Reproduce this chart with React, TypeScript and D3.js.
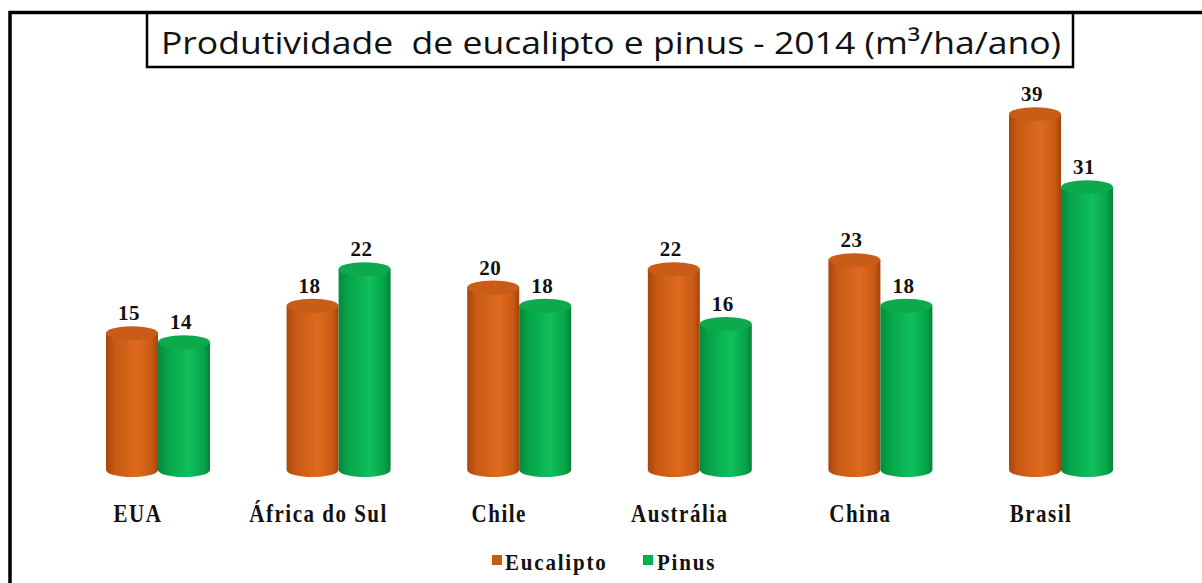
import * as d3 from "d3";

const categories = ["EUA", "África do Sul", "Chile", "Austrália", "China", "Brasil"];
const eucalipto = [15, 18, 20, 22, 23, 39];
const pinus = [14, 22, 18, 16, 18, 31];
const seriesNames = ["Eucalipto", "Pinus"];
const title = "Produtividade  de eucalipto e pinus - 2014 (m³/ha/ano)";

const W = 1202;
const H = 583;

const series = [
  { name: seriesNames[0], values: eucalipto, grad: "gradOrange", top: "#C95C16", swatch: "#C55A11" },
  { name: seriesNames[1], values: pinus, grad: "gradGreen", top: "#0DAA4C", swatch: "#00B050" },
];

export default function App() {
  const x = d3.scaleBand<string>().domain(categories).range([67.7, 1151.3]);
  const inner = d3.scaleBand<string>().domain(seriesNames).range([-52, 52]);
  const y = d3.scaleLinear().domain([0, 40]).range([470, 105]);
  const ry = 7;
  const bw = inner.bandwidth();

  const serif = "'Liberation Serif', 'Times New Roman', serif";

  return (
    <svg
      width={W}
      height={H}
      style={{ position: "absolute", left: 0, top: 0, background: "#fff" }}
    >
      <defs>
        <linearGradient id="gradOrange" x1="0" x2="1" y1="0" y2="0">
          <stop offset="0%" stopColor="#A9450C" />
          <stop offset="18%" stopColor="#C95A14" />
          <stop offset="60%" stopColor="#DE6A1E" />
          <stop offset="88%" stopColor="#C95A14" />
          <stop offset="100%" stopColor="#A5430B" />
        </linearGradient>
        <linearGradient id="gradGreen" x1="0" x2="1" y1="0" y2="0">
          <stop offset="0%" stopColor="#07893C" />
          <stop offset="18%" stopColor="#05A448" />
          <stop offset="60%" stopColor="#10BF5C" />
          <stop offset="88%" stopColor="#05A448" />
          <stop offset="100%" stopColor="#068238" />
        </linearGradient>
      </defs>

      {/* outer frame */}
      <rect x={10} y={12.5} width={1400} height={800} fill="none" stroke="#000" strokeWidth={3.5} />

      {/* title box */}
      <rect x={147} y={13} width={926} height={54} fill="#fff" stroke="#000" strokeWidth={2.5} />
      <text
        x={611}
        y={54}
        textAnchor="middle"
        fontFamily="'Open Sans', 'Noto Sans', sans-serif"
        fontSize={31}
        textLength={900}
        lengthAdjust="spacingAndGlyphs"
        fill="#111"
        style={{ whiteSpace: "pre" }}
      >
        {title}
      </text>

      {/* bars */}
      {categories.map((c, i) => (
        <g key={c}>
          {series.map((s) => {
            const v = s.values[i];
            const x0 = (x(c) as number) + x.bandwidth() / 2 + (inner(s.name) as number);
            const cx = x0 + bw / 2;
            const yt = y(v);
            const yb = y(0);
            return (
              <g key={s.name}>
                <path
                  d={`M${x0},${yt} L${x0},${yb} A${bw / 2},${ry} 0 0 0 ${x0 + bw},${yb} L${x0 + bw},${yt} Z`}
                  fill={`url(#${s.grad})`}
                />
                <ellipse cx={cx} cy={yt} rx={bw / 2} ry={ry} fill={s.top} />
                <text
                  x={cx - 3}
                  y={yt - ry - 6}
                  textAnchor="middle"
                  fontFamily={serif}
                  fontWeight="bold"
                  fontSize={21}
                  letterSpacing={0.5}
                  fill="#111"
                >
                  {v}
                </text>
              </g>
            );
          })}
          <text
            transform={`translate(${(x(c) as number) + x.bandwidth() / 2 - bw / 2 + 6},522) scale(1,1.2)`}
            textAnchor="middle"
            fontFamily={serif}
            fontWeight="bold"
            fontSize={21}
            letterSpacing={1.5}
            fill="#111"
          >
            {c}
          </text>
        </g>
      ))}

      {/* legend */}
      <g>
        <rect x={492} y={555} width={10} height={10} fill={series[0].swatch} />
        <text transform="translate(505,570) scale(1,1.1)" fontFamily={serif} fontWeight="bold" fontSize={21} letterSpacing={1.8} fill="#111">
          {series[0].name}
        </text>
        <rect x={643} y={555} width={10} height={10} fill={series[1].swatch} />
        <text transform="translate(657,570) scale(1,1.1)" fontFamily={serif} fontWeight="bold" fontSize={21} letterSpacing={1.8} fill="#111">
          {series[1].name}
        </text>
      </g>
    </svg>
  );
}
